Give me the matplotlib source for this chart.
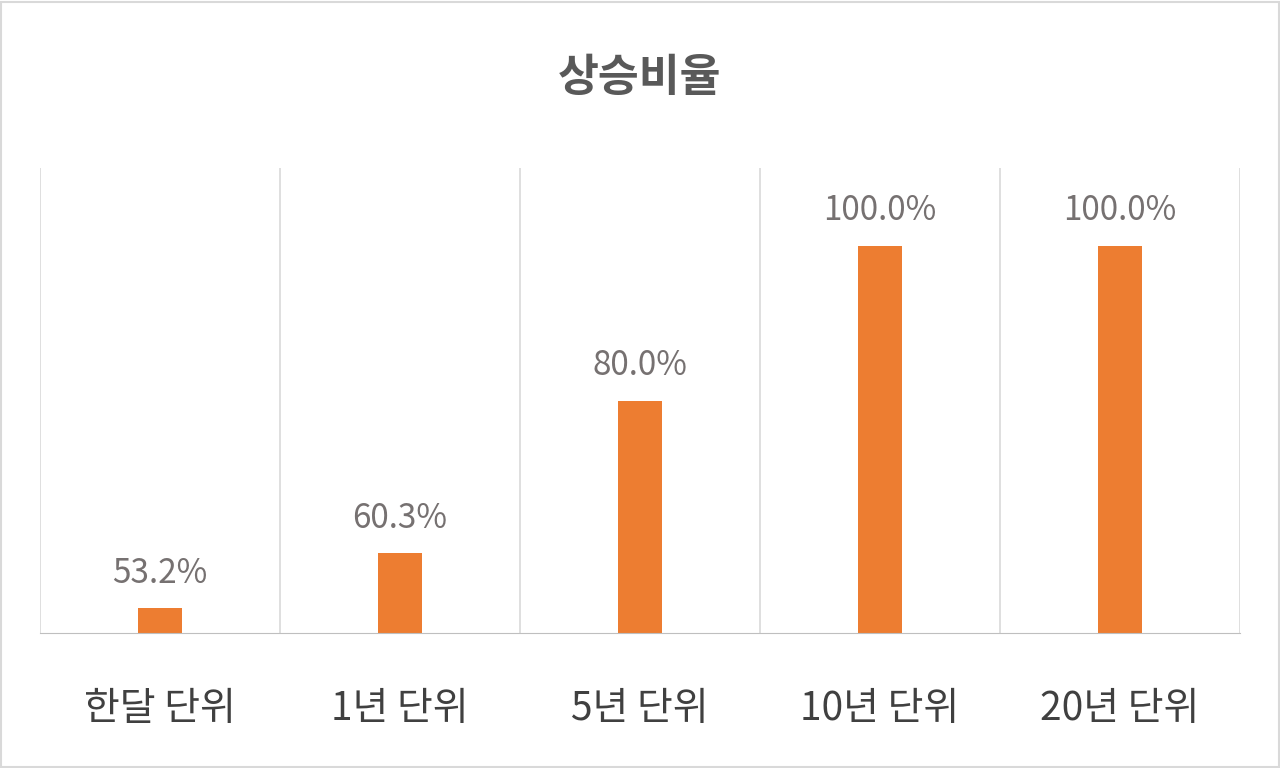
import matplotlib
matplotlib.use("Agg")
import matplotlib.pyplot as plt
from matplotlib.patches import Rectangle

plt.rcParams['font.family'] = ['Noto Sans CJK KR', 'DejaVu Sans']

categories = ['한달 단위', '1년 단위', '5년 단위', '10년 단위', '20년 단위']
values = [53.2, 60.3, 80.0, 100.0, 100.0]

fig = plt.figure(figsize=(12.8, 7.68), dpi=100)
ax = fig.add_axes([40/1280, 1-633/768, 1200/1280, (633-168)/768])
x = list(range(len(categories)))
ax.bar(x, values, width=0.18, color='#ED7D31', bottom=0)
ax.set_ylim(50, 110)
ax.set_xlim(-0.5, len(categories)-0.5)
for xi, v in zip(x, values):
    ax.text(xi, v + 2.2, f'{v:.1f}%', ha='center', va='bottom', fontsize=24, color='#767171')
for b in range(1, len(categories)):
    ax.axvline(b-0.5, color='#D9D9D9', lw=1.2)
ax.axvline(-0.5, color='#D9D9D9', lw=1.2)
ax.axvline(len(categories)-0.5, color='#D9D9D9', lw=1.2)
for s in ['top', 'left', 'right']:
    ax.spines[s].set_visible(False)
ax.spines['bottom'].set_color('#BFBFBF')
ax.set_yticks([])
ax.set_xticks(x)
ax.set_xticklabels(categories, fontsize=28, color='#404040')
ax.tick_params(axis='x', length=0, pad=40)
fig.text(0.5, 1-78/768, '상승비율', ha='center', va='center', fontsize=32, fontweight='bold', color='#595959')
fig.patches.append(Rectangle((0.001, 0.001), 0.998, 0.997, transform=fig.transFigure, fill=False, edgecolor='#D9D9D9', lw=1.5))
fig.savefig('out.png', dpi=100)
